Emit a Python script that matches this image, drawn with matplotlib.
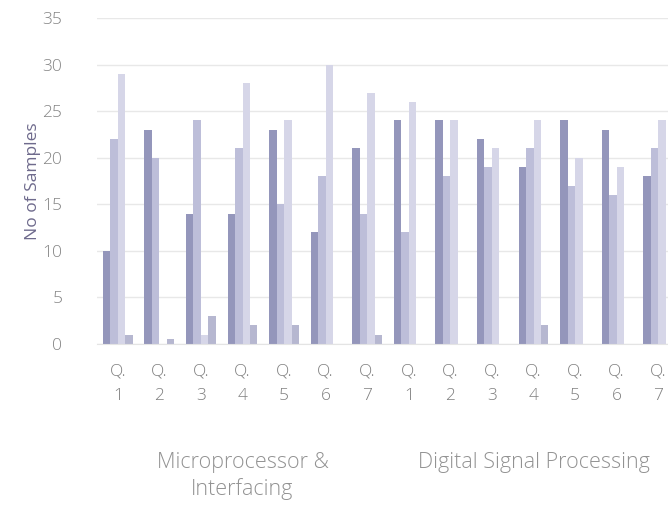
import numpy as np
import matplotlib
matplotlib.use("Agg")
import matplotlib.pyplot as plt
import matplotlib.transforms as mtransforms

plt.rcParams['font.family'] = ['Open Sans', 'DejaVu Sans']

# questions (two subjects, 7 questions each)
questions = ["Q.\n1", "Q.\n2", "Q.\n3", "Q.\n4", "Q.\n5", "Q.\n6", "Q.\n7",
             "Q.\n1", "Q.\n2", "Q.\n3", "Q.\n4", "Q.\n5", "Q.\n6", "Q.\n7"]
subjects = ["Microprocessor &\nInterfacing", "Digital Signal Processing"]
subject_centres = [3, 10]

# four response series per question
series_a = [10, 23, 14, 14, 23, 12, 21, 24, 24, 22, 19, 24, 23, 18]
series_b = [22, 20, 24, 21, 15, 18, 14, 12, 18, 19, 21, 17, 16, 21]
series_c = [29, 0, 1, 28, 24, 30, 27, 26, 24, 21, 24, 20, 19, 24]
series_d = [1, 0.5, 3, 2, 2, 0, 1, 0, 0, 0, 2, 0, 0, 0]

fig = plt.figure(figsize=(6.68, 5.16), dpi=100)
# plot area runs past the right edge, like the cropped original
ax = fig.add_axes([97 / 668, 172 / 516, 582 / 668, 326 / 516])

x = np.arange(len(questions))
w = 0.18
colors = ['#9496bb', '#bdbed9', '#d6d6e8', '#b6b7d0']
for k, (vals, c) in enumerate(zip([series_a, series_b, series_c, series_d], colors)):
    ax.bar(x + (k - 1.5) * w, vals, width=w, color=c, zorder=2)

ax.set_xlim(-0.5, len(questions) - 0.5)
ax.set_ylim(0, 35)
ax.set_yticks(np.arange(0, 36, 5))
ax.yaxis.grid(True, color='#e8e8e8', linewidth=1.0, zorder=0)
ax.set_axisbelow(True)
for s in ['top', 'right', 'left']:
    ax.spines[s].set_visible(False)
ax.spines['bottom'].set_color('#e4e4e4')

ax.set_xticks(x)
ax.set_xticklabels(questions, fontsize=12.5, color='#808080', linespacing=1.7,
                   fontweight='light')
ax.tick_params(axis='both', length=0)
ax.tick_params(axis='x', pad=14)
ax.tick_params(axis='y', labelsize=12.5, labelcolor='#858585', pad=25)
for lab in ax.get_yticklabels():
    lab.set_fontweight('light')

ax.set_ylabel("No of Samples", fontsize=12.5, color='#6e6a8c', labelpad=1)

trans = mtransforms.blended_transform_factory(ax.transData, ax.transAxes)
ax.text(subject_centres[0], -0.405, subjects[0], transform=trans, ha='center',
        va='center', fontsize=15.5, color='#929292', linespacing=1.25,
        fontweight='light')
ax.text(subject_centres[1], -0.365, subjects[1], transform=trans, ha='center',
        va='center', fontsize=15.5, color='#929292', fontweight='light')

fig.savefig("out.png", dpi=100)
